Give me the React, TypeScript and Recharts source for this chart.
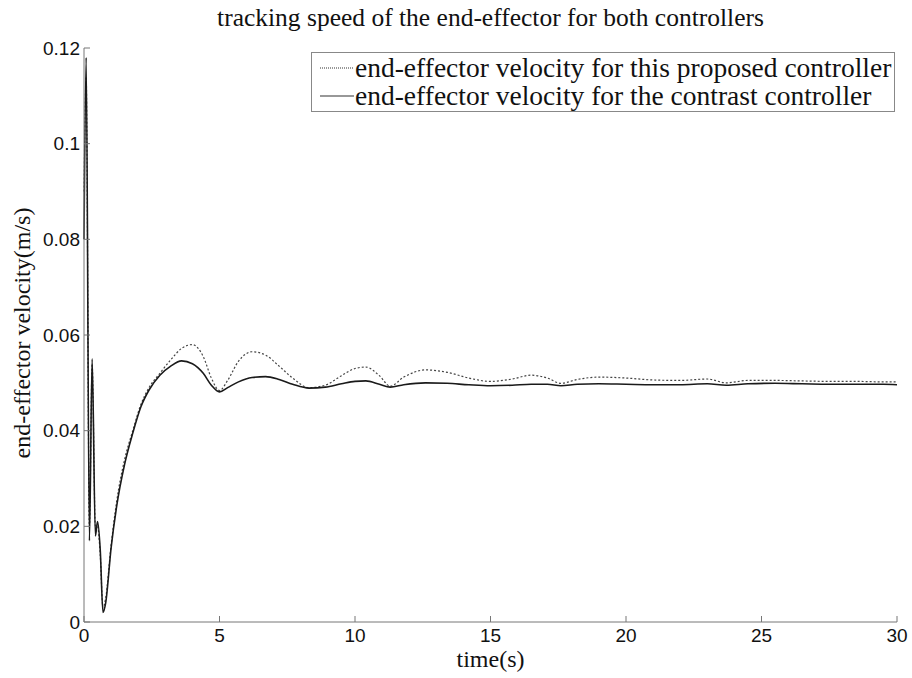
import { LineChart, Line, XAxis, YAxis } from "recharts"

const times = [
  0, 0.08, 0.2, 0.3, 0.42, 0.5, 0.6, 0.7, 0.8, 1.0, 1.2, 1.5, 1.8, 2.1, 2.4, 2.8, 3.2, 3.6, 4.0, 4.4, 4.7,
  5.0, 5.3, 5.7, 6.2, 6.7, 7.2, 7.7, 8.3, 8.9, 9.5, 10.0, 10.4, 10.9, 11.3, 11.8, 12.6, 13.4, 14.2, 15.0,
  15.8, 16.5, 17.1, 17.6, 18.2, 19.0, 20, 21, 22, 23, 23.7, 24.5, 25.5, 26.5, 27.5, 28.5, 29.5, 30,
]

const proposed = [
  0.09, 0.114, 0.02, 0.054, 0.02, 0.02, 0.014, 0.003, 0.005, 0.016, 0.025, 0.034, 0.04, 0.0455, 0.049,
  0.052, 0.0548, 0.0572, 0.058, 0.0555, 0.051, 0.0484, 0.0505, 0.0545, 0.0565, 0.0558, 0.0535, 0.051,
  0.049, 0.0495, 0.0515, 0.053, 0.0533, 0.0515, 0.0493, 0.0512, 0.0527, 0.0522, 0.051, 0.0503, 0.0508,
  0.0516, 0.051, 0.0499, 0.0507, 0.0512, 0.051, 0.0506, 0.0505, 0.0508, 0.05, 0.0505, 0.0505, 0.0504,
  0.0503, 0.0503, 0.0502, 0.0502,
]

const contrast = [
  0.08, 0.118, 0.017, 0.055, 0.018, 0.021, 0.015, 0.002, 0.004, 0.0155, 0.024, 0.033, 0.0395, 0.045,
  0.0485, 0.0516, 0.0535, 0.0546, 0.054, 0.052, 0.0495, 0.0481, 0.049, 0.0502, 0.0511, 0.0513, 0.0507,
  0.0497, 0.0489, 0.0491, 0.0498, 0.0503, 0.0504, 0.0497, 0.0491, 0.0496, 0.05, 0.0499, 0.0496, 0.0494,
  0.0495, 0.0497, 0.0497, 0.0494, 0.0497, 0.0498, 0.0497, 0.0496, 0.0496, 0.0498, 0.0495, 0.0498, 0.0499,
  0.0498, 0.0497, 0.0497, 0.0497, 0.0496,
]

const xTicks = [0, 5, 10, 15, 20, 25, 30]
const yTicks = [0, 0.02, 0.04, 0.06, 0.08, 0.1, 0.12]

const data = times.map((t, i) => ({ t, proposed: proposed[i], contrast: contrast[i] }))

const serif = "'Liberation Serif', 'Times New Roman', serif"
const sans = "'Liberation Sans', Arial, sans-serif"
const frame = "#777"

function LeftTick(props: any) {
  const { x, y, payload } = props
  return (
    <g>
      <line x1={x + 4} x2={x + 10} y1={y} y2={y} stroke={frame} />
      <text x={x} y={y} dy="0.35em" textAnchor="end" fontFamily={sans} fontSize={19} fill="#111">
        {String(parseFloat(Number(payload.value).toFixed(2)))}
      </text>
    </g>
  )
}

function RightTick(props: any) {
  const { x, y } = props
  return <line x1={x - 4} x2={x - 10} y1={y} y2={y} stroke={frame} />
}

function BottomTick(props: any) {
  const { x, y, payload } = props
  return (
    <g>
      <line x1={x} x2={x} y1={y - 4} y2={y - 10} stroke={frame} />
      <text x={x} y={y + 16} textAnchor="middle" fontFamily={sans} fontSize={19} fill="#111">
        {payload.value}
      </text>
    </g>
  )
}

function TopTick(props: any) {
  const { x, y } = props
  return <line x1={x} x2={x} y1={y + 4} y2={y + 10} stroke={frame} />
}

function LegendBox() {
  const row = (dash: string | undefined, width: number, label: string) => (
    <div style={{ display: "flex", alignItems: "center", height: 28 }}>
      <svg width={36} height={10} style={{ marginRight: 1 }}>
        <line x1={2} x2={36} y1={5} y2={5} stroke="#333" strokeWidth={width} strokeDasharray={dash} />
      </svg>
      <span style={{ fontFamily: serif, fontSize: 27.5, lineHeight: "28px", color: "#111", whiteSpace: "nowrap" }}>
        {label}
      </span>
    </div>
  )
  return (
    <div
      style={{
        position: "absolute",
        left: 311,
        top: 52,
        width: 584,
        height: 60,
        border: "1px solid #888",
        background: "#fff",
        boxSizing: "border-box",
        paddingLeft: 6,
        paddingTop: 1,
      }}
    >
      {row("1 1", 1, "end-effector velocity for this proposed controller")}
      {row(undefined, 1.2, "end-effector velocity for the contrast controller")}
    </div>
  )
}

export default function App() {
  return (
    <div style={{ position: "absolute", left: 0, top: 0, width: 912, height: 678, background: "#fff" }}>
      <div
        style={{
          position: "absolute",
          left: 84,
          width: 813,
          top: 5,
          lineHeight: "26px",
          textAlign: "center",
          fontFamily: serif,
          fontSize: 25.5,
          color: "#111",
        }}
      >
        tracking speed of the end-effector for both controllers
      </div>
      <div
        style={{
          position: "absolute",
          left: 84,
          width: 813,
          top: 648,
          lineHeight: "22px",
          textAlign: "center",
          fontFamily: serif,
          fontSize: 24,
          color: "#111",
        }}
      >
        time(s)
      </div>
      <div
        style={{
          position: "absolute",
          left: 22,
          top: 333,
          transform: "translate(-50%, -50%) rotate(-90deg)",
          fontFamily: serif,
          fontSize: 24,
          lineHeight: "26px",
          color: "#111",
          whiteSpace: "nowrap",
        }}
      >
        end-effector velocity(m/s)
      </div>
      <LineChart width={912} height={678} data={data} margin={{ top: 48, right: 15, left: 0, bottom: 0 }}>
        <XAxis
          xAxisId="b"
          dataKey="t"
          type="number"
          domain={[0, 30]}
          ticks={xTicks}
          height={56}
          tickSize={0}
          tickMargin={4}
          tickLine={false}
          tick={<BottomTick />}
          axisLine={{ stroke: frame }}
        />
        <XAxis
          xAxisId="top"
          orientation="top"
          dataKey="t"
          type="number"
          domain={[0, 30]}
          ticks={xTicks}
          height={0}
          tickSize={0}
          tickMargin={4}
          tickLine={false}
          tick={<TopTick />}
          axisLine={{ stroke: frame }}
        />
        <YAxis
          yAxisId="l"
          type="number"
          domain={[0, 0.12]}
          ticks={yTicks}
          width={84}
          tickSize={0}
          tickMargin={4}
          tickLine={false}
          tick={<LeftTick />}
          axisLine={{ stroke: frame }}
          interval={0}
        />
        <YAxis
          yAxisId="r"
          orientation="right"
          type="number"
          domain={[0, 0.12]}
          ticks={yTicks}
          width={0}
          tickSize={0}
          tickMargin={4}
          tickLine={false}
          tick={<RightTick />}
          axisLine={{ stroke: frame }}
          interval={0}
        />
        <Line
          xAxisId="b"
          yAxisId="l"
          type="monotone"
          dataKey="proposed"
          stroke="#444"
          strokeWidth={1.2}
          strokeDasharray="2 2"
          dot={false}
          isAnimationActive={false}
        />
        <Line
          xAxisId="b"
          yAxisId="l"
          type="monotone"
          dataKey="contrast"
          stroke="#1a1a1a"
          strokeWidth={1.6}
          dot={false}
          isAnimationActive={false}
        />
      </LineChart>
      <LegendBox />
    </div>
  )
}
